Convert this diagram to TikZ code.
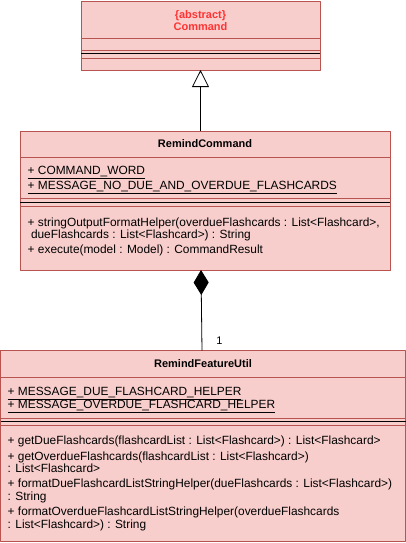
\documentclass[tikz,border=0pt]{standalone}
\usepackage{fontspec}
\setmainfont{Liberation Sans}
\usetikzlibrary{arrows.meta}
\definecolor{umlfill}{HTML}{F8CECC}
\definecolor{umlline}{HTML}{B85450}
\definecolor{umlred}{HTML}{FF3333}
\tikzset{
  classbox/.style={draw=umlline,fill=umlfill,line width=0.9pt},
  compline/.style={draw=umlline,line width=0.9pt},
  barline/.style={draw=black,line width=1pt},
  member/.style={anchor=base west,inner sep=0pt,font=\fontsize{11.9}{13}\selectfont},
  classname/.style={inner sep=0pt,font=\bfseries\fontsize{11}{12}\selectfont},
}
\begin{document}
\begin{tikzpicture}[x=1pt,y=-1pt,line join=round]
    \useasboundingbox (0,0) rectangle (406,543);

    % Command
    \draw[classbox] (81,1) rectangle (320,70);
    \draw[compline] (81,38)--(320,38) (81,50)--(320,50) (81,58)--(320,58);
    \draw[barline] (81,54)--(320,54);
    \node[classname,text=umlred,align=center] (cmdName) at (200.5,21) {\{abstract\}\\Command};
    \coordinate (cmdBottom) at (200.5,70);

    % RemindCommand
    \draw[classbox] (20,131) rectangle (390,270);
    \draw[compline] (20,157)--(390,157) (20,198)--(390,198) (20,206.5)--(390,206.5);
    \draw[barline] (20,202.5)--(390,202.5);
    \node[classname] (remName) at (205,144) {RemindCommand};
    \node[member] (remWord) at (27.5,174) {\underline{+ COMMAND\_WORD}};
    \node[member] (remMsg) at (27.5,189) {\underline{+ MESSAGE\_NO\_DUE\_AND\_OVERDUE\_FLASHCARDS}};
    \foreach \yy/\txt [count=\i] in {226/{+ stringOutputFormatHelper(overdueFlashcards : List<Flashcard>,},
        238.5/{\ dueFlashcards : List<Flashcard>) : String},
        253/{+ execute(model : Model) : CommandResult}}
        \node[member] (remOp\i) at (27.5,\yy) {\txt};
    \coordinate (remTop) at (200.5,131);
    \coordinate (remBottom) at (201,270);

    % RemindFeatureUtil
    \draw[classbox] (0.5,350.5) rectangle (405.5,541);
    \draw[compline] (0.5,377)--(405.5,377) (0.5,418)--(405.5,418) (0.5,425.5)--(405.5,425.5);
    \draw[barline] (0.5,421.5)--(405.5,421.5);
    \node[classname] (utilName) at (203,364) {RemindFeatureUtil};
    \node[member] (utilDue) at (7.5,395) {\underline{+ MESSAGE\_DUE\_FLASHCARD\_HELPER}};
    \node[member] (utilOver) at (7.5,408) {\underline{+ MESSAGE\_OVERDUE\_FLASHCARD\_HELPER}};
    \foreach \yy/\txt [count=\i] in {444/{+ getDueFlashcards(flashcardList : List<Flashcard>) : List<Flashcard>},
        460/{+ getOverdueFlashcards(flashcardList : List<Flashcard>)},
        472/{: List<Flashcard>},
        487/{+ formatDueFlashcardListStringHelper(dueFlashcards : List<Flashcard>)},
        500/{: String},
        515/{+ formatOverdueFlashcardListStringHelper(overdueFlashcards},
        528/{: List<Flashcard>) : String}}
        \node[member] (utilOp\i) at (7.5,\yy) {\txt};
    \coordinate (utilTop) at (202,350.5);

    % generalization
    \draw[-{Triangle[open,length=17pt,width=17pt]},line width=0.8pt] (remTop) -- (cmdBottom);
    % composition
    \draw[{Diamond[length=25pt,width=15pt]}-,line width=0.8pt] (remBottom) -- (utilTop)
        node[pos=0.88,right=14pt,inner sep=0pt,font=\fontsize{11}{13}\selectfont] (mult) {1};
\end{tikzpicture}
\end{document}
